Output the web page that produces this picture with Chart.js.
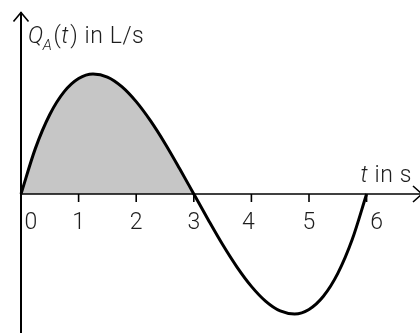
<!DOCTYPE html>
<html>
<head>
<meta charset="utf-8">
<script src="https://cdn.jsdelivr.net/npm/chart.js@4"></script>
<style>
  html, body { margin: 0; padding: 0; background: #fff; }
  canvas { display: block; }
</style>
</head>
<body>
<canvas id="flowChart" width="420" height="333"></canvas>
<script>
// time values (s) and flow rate Q_A(t)
var tValues = [0, 0.25, 0.5, 0.75, 1, 1.25, 1.5, 1.75, 2, 2.25, 2.5, 2.75, 3,
               3.25, 3.5, 3.75, 4, 4.25, 4.5, 4.75, 5, 5.25, 5.5, 5.75, 6];
var qValues = [0, 3.95, 6.88, 8.86, 10, 10.39, 10.13, 9.3, 8, 6.33, 4.38, 2.23, 0,
               -2.23, -4.38, -6.33, -8, -9.3, -10.13, -10.39, -10, -8.86, -6.88, -3.95, 0];
// shaded part is the positive lobe, t = 0 .. 3
var shadeEnd = 3;
var tickLabels = ["0", "1", "2", "3", "4", "5", "6"];

var curvePoints = [];
var shadePoints = [];
for (var i = 0; i < tValues.length; i++) {
    curvePoints.push({ x: tValues[i], y: qValues[i] });
    if (tValues[i] <= shadeEnd) {
        shadePoints.push({ x: tValues[i], y: qValues[i] });
    }
}

var textColor = "#1e1e1e";
var fontName = "Roboto, 'Liberation Sans', sans-serif";
var fontSize = 23;

/* axes, arrows, ticks and labels */
var axesPlugin = {
    id: "axesPlugin",
    afterDatasetsDraw: function (chart) {
        var ctx = chart.ctx;
        var xs = chart.scales.x;
        var ys = chart.scales.y;
        var x0 = xs.getPixelForValue(0);
        var y0 = ys.getPixelForValue(0);
        var w = chart.width;
        var h = chart.height;
        var big = fontSize + "px " + fontName;

        ctx.save();
        ctx.strokeStyle = "#000";
        ctx.lineCap = "butt";

        // y axis with arrow
        ctx.lineWidth = 2;
        ctx.beginPath();
        ctx.moveTo(x0, h);
        ctx.lineTo(x0, 12);
        ctx.stroke();
        ctx.lineWidth = 1.6;
        ctx.beginPath();
        ctx.moveTo(x0 - 7.5, 21.5);
        ctx.lineTo(x0, 12.5);
        ctx.lineTo(x0 + 7.5, 21.5);
        ctx.stroke();

        // x axis with arrow
        ctx.lineWidth = 1.6;
        ctx.beginPath();
        ctx.moveTo(x0, y0);
        ctx.lineTo(w, y0);
        ctx.stroke();
        ctx.beginPath();
        ctx.moveTo(w - 7, y0 - 8);
        ctx.lineTo(w + 2, y0);
        ctx.lineTo(w - 7, y0 + 8);
        ctx.stroke();

        // ticks and tick labels
        ctx.fillStyle = textColor;
        ctx.font = "300 " + big;
        ctx.textAlign = "center";
        ctx.textBaseline = "alphabetic";
        for (var k = 0; k < tickLabels.length; k++) {
            var v = Number(tickLabels[k]);
            var px = xs.getPixelForValue(v);
            if (v > 0) {
                ctx.lineWidth = 1.6;
                ctx.beginPath();
                ctx.moveTo(px, y0);
                ctx.lineTo(px, y0 + 8);
                ctx.stroke();
            }
            var shift = 0;
            if (v === 0) shift = 10;
            if (v === 6) shift = 10;
            if (v === 4) shift = -3;
            ctx.fillText(tickLabels[k], px + shift, 229);
        }

        // y axis title: Q_A(t) in L/s
        ctx.letterSpacing = "0.6px";
        ctx.textAlign = "left";
        var tx = 28;
        ctx.font = "italic 300 " + big;
        ctx.fillText("Q", tx, 43);
        tx += ctx.measureText("Q").width;
        ctx.font = "italic 300 15px " + fontName;
        ctx.fillText("A", tx - 1, 50);
        tx += ctx.measureText("A").width;
        ctx.font = "300 " + big;
        ctx.fillText("(", tx, 43);
        tx += ctx.measureText("(").width;
        ctx.font = "italic 300 " + big;
        ctx.fillText("t", tx, 43);
        tx += ctx.measureText("t").width + 1;
        ctx.font = "300 " + big;
        ctx.fillText(") in L/s", tx, 43);

        // x axis title: t in s
        ctx.textAlign = "right";
        ctx.font = "300 " + big;
        ctx.fillText(" in s", 412, 182);
        tx = 412 - ctx.measureText(" in s").width;
        ctx.font = "italic 300 " + big;
        ctx.fillText("t", tx, 182);

        ctx.restore();
    }
};

var ctxFlow = document.getElementById("flowChart");
var flowChart = new Chart(ctxFlow, {
    type: "line",
    data: {
        datasets: [{
            label: "Q_A",
            data: curvePoints,
            order: 0,
            borderWidth: 3,
            borderColor: "#000",
            fill: false,
            pointRadius: 0,
            cubicInterpolationMode: "monotone"
        }, {
            label: "shaded",
            data: shadePoints,
            order: 1,
            borderWidth: 0,
            borderColor: "rgba(0,0,0,0)",
            backgroundColor: "#c6c6c6",
            fill: "origin",
            pointRadius: 0,
            cubicInterpolationMode: "monotone"
        }]
    },
    options: {
        responsive: false,
        animation: false,
        devicePixelRatio: 1,
        layout: { padding: 0 },
        plugins: {
            legend: { display: false },
            tooltip: { enabled: false }
        },
        scales: {
            x: { type: "linear", display: false, min: -21 / 57.6, max: 399 / 57.6 },
            y: { type: "linear", display: false, min: -12.04, max: 16.8 }
        }
    },
    plugins: [axesPlugin]
});
</script>
</body>
</html>
